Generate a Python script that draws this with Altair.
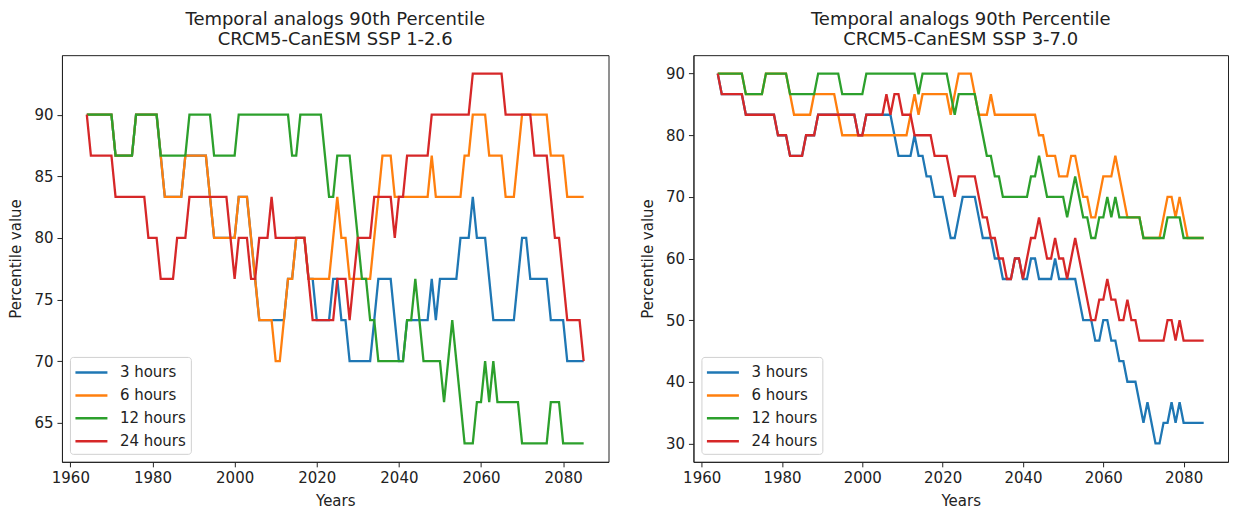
import altair as alt
import pandas as pd

years = list(range(1964, 2086))
series_names = ["3 hours", "6 hours", "12 hours", "24 hours"]
series_colors = ["#1f77b4", "#ff7f0e", "#2ca02c", "#d62728"]
x_ticks = [1960, 1980, 2000, 2020, 2040, 2060, 2080]
left_y_ticks = [65, 70, 75, 80, 85, 90]
right_y_ticks = [30, 40, 50, 60, 70, 80, 90]

# ---- SSP 1-2.6 (left) ----
left_3h = [
    90, 90, 90, 90, 90, 90,
    90, 86.67, 86.67, 86.67, 86.67, 86.67, 90, 90, 90, 90,
    90, 90, 86.67, 83.33, 83.33, 83.33, 83.33, 83.33, 86.67, 86.67,
    86.67, 86.67, 86.67, 86.67, 83.33, 80, 80, 80, 80, 80,
    80, 83.33, 83.33, 83.33, 80, 76.67, 73.33, 73.33, 73.33, 73.33,
    73.33, 73.33, 73.33, 76.67, 76.67, 80, 80, 80, 76.67, 76.67,
    73.33, 73.33, 73.33, 73.33, 76.67, 76.67, 73.33, 73.33, 70, 70,
    70, 70, 70, 70, 73.33, 76.67, 76.67, 76.67, 76.67, 73.33,
    70, 70, 73.33, 73.33, 73.33, 73.33, 73.33, 73.33, 76.67, 73.33,
    76.67, 76.67, 76.67, 76.67, 76.67, 80, 80, 80, 83.33, 80,
    80, 80, 76.67, 73.33, 73.33, 73.33, 73.33, 73.33, 73.33, 76.67,
    80, 80, 76.67, 76.67, 76.67, 76.67, 76.67, 73.33, 73.33, 73.33,
    73.33, 70, 70, 70, 70, 70,
]
left_6h = [
    90, 90, 90, 90, 90, 90,
    90, 86.67, 86.67, 86.67, 86.67, 86.67, 90, 90, 90, 90,
    90, 90, 86.67, 83.33, 83.33, 83.33, 83.33, 83.33, 86.67, 86.67,
    86.67, 86.67, 86.67, 86.67, 83.33, 80, 80, 80, 80, 80,
    80, 83.33, 83.33, 83.33, 80, 76.67, 73.33, 73.33, 73.33, 73.33,
    70, 70, 73.33, 76.67, 76.67, 80, 80, 80, 76.67, 76.67,
    76.67, 76.67, 76.67, 76.67, 80, 83.33, 80, 80, 76.67, 76.67,
    76.67, 76.67, 76.67, 76.67, 80, 83.33, 86.67, 86.67, 86.67, 83.33,
    83.33, 83.33, 83.33, 83.33, 83.33, 83.33, 83.33, 83.33, 86.67, 83.33,
    83.33, 83.33, 83.33, 83.33, 83.33, 83.33, 86.67, 86.67, 90, 90,
    90, 90, 86.67, 86.67, 86.67, 86.67, 83.33, 83.33, 83.33, 86.67,
    90, 90, 90, 90, 90, 90, 90, 86.67, 86.67, 86.67,
    86.67, 83.33, 83.33, 83.33, 83.33, 83.33,
]
left_12h = [
    90, 90, 90, 90, 90, 90,
    90, 86.67, 86.67, 86.67, 86.67, 86.67, 90, 90, 90, 90,
    90, 90, 86.67, 86.67, 86.67, 86.67, 86.67, 86.67, 86.67, 90,
    90, 90, 90, 90, 90, 86.67, 86.67, 86.67, 86.67, 86.67,
    86.67, 90, 90, 90, 90, 90, 90, 90, 90, 90,
    90, 90, 90, 90, 86.67, 86.67, 90, 90, 90, 90,
    90, 90, 86.67, 83.33, 83.33, 86.67, 86.67, 86.67, 86.67, 83.33,
    80, 76.67, 76.67, 73.33, 73.33, 70, 70, 70, 70, 70,
    70, 70, 73.33, 73.33, 76.67, 73.33, 70, 70, 70, 70,
    70, 66.67, 70, 73.33, 70, 66.67, 63.33, 63.33, 63.33, 66.67,
    66.67, 70, 66.67, 70, 66.67, 66.67, 66.67, 66.67, 66.67, 66.67,
    63.33, 63.33, 63.33, 63.33, 63.33, 63.33, 63.33, 66.67, 66.67, 66.67,
    63.33, 63.33, 63.33, 63.33, 63.33, 63.33,
]
left_24h = [
    90, 86.67, 86.67, 86.67, 86.67, 86.67,
    86.67, 83.33, 83.33, 83.33, 83.33, 83.33, 83.33, 83.33, 83.33, 80,
    80, 80, 76.67, 76.67, 76.67, 76.67, 80, 80, 80, 83.33,
    83.33, 83.33, 83.33, 83.33, 83.33, 83.33, 83.33, 83.33, 83.33, 80,
    76.67, 80, 80, 80, 76.67, 76.67, 80, 80, 80, 83.33,
    80, 80, 80, 80, 80, 80, 80, 80, 76.67, 73.33,
    73.33, 73.33, 73.33, 73.33, 73.33, 76.67, 76.67, 76.67, 73.33, 76.67,
    80, 80, 80, 80, 83.33, 83.33, 83.33, 83.33, 83.33, 80,
    83.33, 83.33, 86.67, 86.67, 86.67, 86.67, 86.67, 86.67, 90, 90,
    90, 90, 90, 90, 90, 90, 90, 90, 93.33, 93.33,
    93.33, 93.33, 93.33, 93.33, 93.33, 93.33, 90, 90, 90, 90,
    90, 90, 90, 86.67, 86.67, 86.67, 86.67, 83.33, 80, 80,
    76.67, 73.33, 73.33, 73.33, 73.33, 70,
]

# ---- SSP 3-7.0 (right) ----
right_3h = [
    90, 86.67, 86.67, 86.67, 86.67, 86.67,
    86.67, 83.33, 83.33, 83.33, 83.33, 83.33, 83.33, 83.33, 83.33, 80,
    80, 80, 76.67, 76.67, 76.67, 76.67, 80, 80, 80, 83.33,
    83.33, 83.33, 83.33, 83.33, 83.33, 83.33, 83.33, 83.33, 83.33, 80,
    80, 83.33, 83.33, 83.33, 83.33, 83.33, 83.33, 83.33, 80, 76.67,
    76.67, 76.67, 76.67, 80, 76.67, 76.67, 73.33, 73.33, 70, 70,
    70, 66.67, 63.33, 63.33, 66.67, 70, 70, 70, 70, 66.67,
    63.33, 63.33, 63.33, 60, 60, 56.67, 56.67, 56.67, 60, 60,
    56.67, 56.67, 60, 60, 56.67, 56.67, 56.67, 56.67, 60, 56.67,
    56.67, 56.67, 56.67, 56.67, 53.33, 50, 50, 50, 46.67, 46.67,
    50, 50, 46.67, 46.67, 43.33, 43.33, 40, 40, 40, 36.67,
    33.33, 36.67, 33.33, 30, 30, 33.33, 33.33, 36.67, 33.33, 36.67,
    33.33, 33.33, 33.33, 33.33, 33.33, 33.33,
]
right_6h = [
    90, 90, 90, 90, 90, 90,
    90, 86.67, 86.67, 86.67, 86.67, 86.67, 90, 90, 90, 90,
    90, 90, 86.67, 83.33, 83.33, 83.33, 83.33, 83.33, 86.67, 86.67,
    86.67, 86.67, 86.67, 86.67, 83.33, 80, 80, 80, 80, 80,
    80, 80, 80, 80, 80, 80, 80, 80, 80, 80,
    80, 80, 83.33, 86.67, 83.33, 86.67, 86.67, 86.67, 86.67, 86.67,
    86.67, 86.67, 83.33, 86.67, 90, 90, 90, 90, 86.67, 83.33,
    83.33, 83.33, 86.67, 83.33, 83.33, 83.33, 83.33, 83.33, 83.33, 83.33,
    83.33, 83.33, 83.33, 83.33, 80, 80, 76.67, 76.67, 76.67, 73.33,
    73.33, 73.33, 76.67, 76.67, 73.33, 70, 70, 66.67, 66.67, 70,
    73.33, 73.33, 73.33, 76.67, 73.33, 70, 66.67, 66.67, 66.67, 66.67,
    63.33, 63.33, 63.33, 63.33, 63.33, 66.67, 70, 70, 66.67, 70,
    66.67, 63.33, 63.33, 63.33, 63.33, 63.33,
]
right_12h = [
    90, 90, 90, 90, 90, 90,
    90, 86.67, 86.67, 86.67, 86.67, 86.67, 90, 90, 90, 90,
    90, 90, 86.67, 86.67, 86.67, 86.67, 86.67, 86.67, 86.67, 90,
    90, 90, 90, 90, 90, 86.67, 86.67, 86.67, 86.67, 86.67,
    86.67, 90, 90, 90, 90, 90, 90, 90, 90, 90,
    90, 90, 90, 90, 86.67, 90, 90, 90, 90, 90,
    90, 90, 86.67, 83.33, 86.67, 86.67, 86.67, 86.67, 86.67, 83.33,
    80, 76.67, 76.67, 73.33, 73.33, 70, 70, 70, 70, 70,
    70, 70, 73.33, 73.33, 76.67, 73.33, 70, 70, 70, 70,
    70, 66.67, 70, 73.33, 70, 66.67, 66.67, 63.33, 63.33, 66.67,
    66.67, 70, 66.67, 70, 66.67, 66.67, 66.67, 66.67, 66.67, 66.67,
    63.33, 63.33, 63.33, 63.33, 63.33, 63.33, 66.67, 66.67, 66.67, 66.67,
    63.33, 63.33, 63.33, 63.33, 63.33, 63.33,
]
right_24h = [
    90, 86.67, 86.67, 86.67, 86.67, 86.67,
    86.67, 83.33, 83.33, 83.33, 83.33, 83.33, 83.33, 83.33, 83.33, 80,
    80, 80, 76.67, 76.67, 76.67, 76.67, 80, 80, 80, 83.33,
    83.33, 83.33, 83.33, 83.33, 83.33, 83.33, 83.33, 83.33, 83.33, 80,
    80, 83.33, 83.33, 83.33, 83.33, 83.33, 86.67, 83.33, 86.67, 86.67,
    83.33, 83.33, 83.33, 80, 80, 80, 80, 80, 76.67, 76.67,
    76.67, 76.67, 73.33, 70, 73.33, 73.33, 73.33, 73.33, 73.33, 70,
    66.67, 66.67, 63.33, 63.33, 60, 60, 56.67, 56.67, 60, 60,
    56.67, 60, 63.33, 63.33, 66.67, 63.33, 60, 60, 63.33, 60,
    60, 56.67, 60, 63.33, 60, 56.67, 53.33, 50, 50, 53.33,
    53.33, 56.67, 53.33, 53.33, 50, 50, 53.33, 50, 50, 46.67,
    46.67, 46.67, 46.67, 46.67, 46.67, 46.67, 50, 50, 46.67, 50,
    46.67, 46.67, 46.67, 46.67, 46.67, 46.67,
]

for arr in [left_3h, left_6h, left_12h, left_24h, right_3h, right_6h, right_12h, right_24h]:
    assert len(arr) == len(years), len(arr)

FONT = "DejaVu Sans"


def make_df(series_lists):
    rows = []
    for name, vals in zip(series_names, series_lists):
        for yr, v in zip(years, vals):
            rows.append({"year": yr, "value": v, "series": name})
    return pd.DataFrame(rows)


def panel(series_lists, subtitle, ydomain, yticks, width):
    df = make_df(series_lists)
    layers = []
    for name in series_names:
        layers.append(
            alt.Chart(df)
            .transform_filter(alt.datum.series == name)
            .mark_line(strokeWidth=2.3, clip=True)
            .encode(
                x=alt.X(
                    "year:Q",
                    scale=alt.Scale(domain=[1957.95, 2091.05], nice=False, zero=False),
                    axis=alt.Axis(values=x_ticks, format="d", title="Years"),
                ),
                y=alt.Y(
                    "value:Q",
                    scale=alt.Scale(domain=ydomain, nice=False, zero=False),
                    axis=alt.Axis(values=yticks, title="Percentile value"),
                ),
                color=alt.Color(
                    "series:N",
                    scale=alt.Scale(domain=series_names, range=series_colors),
                    legend=alt.Legend(
                        title=None,
                        orient="bottom-left",
                        offset=8,
                        fillColor="white",
                        strokeColor="#d0d0d0",
                        padding=4,
                        cornerRadius=3,
                        symbolType="M-1.6,0H1.6",
                        symbolStrokeWidth=2.5,
                        symbolSize=400,
                        symbolOffset=6,
                        labelFontSize=15,
                        labelFont=FONT,
                        labelColor="#222222",
                        rowPadding=3,
                        labelOffset=17,
                    ),
                ),
            )
        )
    return alt.layer(*layers).properties(
        width=width,
        height=407,
        title=alt.Title(
            ["Temporal analogs 90th Percentile", subtitle],
            fontSize=18,
            font=FONT,
            fontWeight="normal",
            color="#222222",
            anchor="middle",
            lineHeight=20,
            offset=6,
        ),
    )


left = panel([left_3h, left_6h, left_12h, left_24h], "CRCM5-CanESM SSP 1-2.6",
             [61.83, 94.83], left_y_ticks, 547)
right = panel([right_3h, right_6h, right_12h, right_24h], "CRCM5-CanESM SSP 3-7.0",
              [27, 93], right_y_ticks, 535)

chart = (
    alt.hconcat(left, right, spacing=30)
    .resolve_scale(color="independent")
    .resolve_legend(color="independent")
    .properties(padding={"left": 0, "top": 2, "right": 0, "bottom": 0})
    .configure_view(stroke="#222222", strokeWidth=1)
    .configure_axis(
        grid=False,
        labelFont=FONT,
        labelFontSize=15,
        labelColor="#222222",
        titleFont=FONT,
        titleFontSize=15,
        titleFontWeight="normal",
        titleColor="#222222",
        tickColor="#222222",
        domainColor="#222222",
        tickSize=5,
        labelPadding=4,
        titlePadding=8,
    )
    .configure_axisY(titlePadding=10)
)

chart.save("out.html", embed_options={"renderer": "svg", "actions": False})
